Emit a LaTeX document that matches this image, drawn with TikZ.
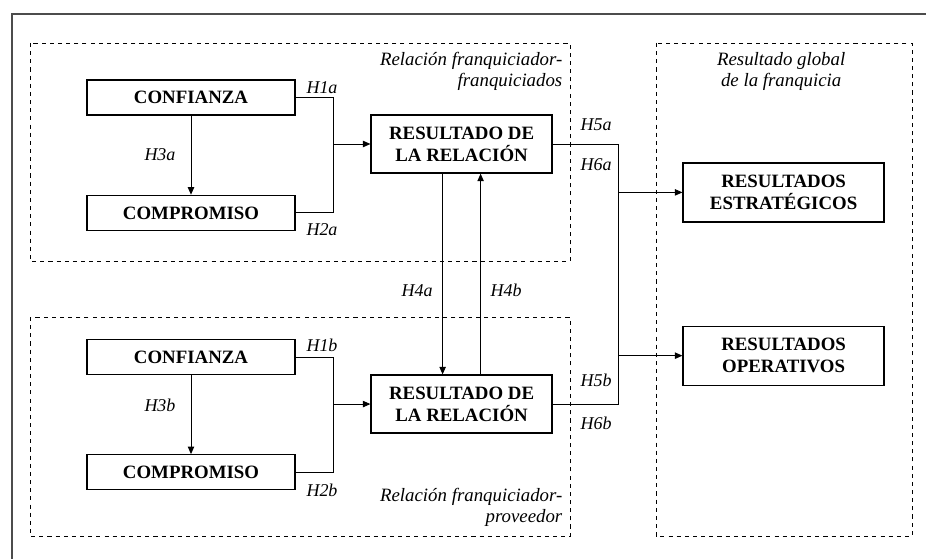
\documentclass[tikz,border=0pt]{standalone}
\usepackage{fontspec}
\setmainfont{Liberation Serif}
\usepackage{tikz}
\usetikzlibrary{
    positioning,
    arrows.meta
}

\begin{document}
\begin{tikzpicture}[
    box/.style={
        rectangle,
        draw,
        line width=0.9pt,
        align=center,
        minimum width=5.2cm,
        minimum height=0.875cm,
        inner sep=1pt,
        font=\fontsize{13.4}{15.5}\selectfont\bfseries
    },
    result/.style={
        box,
        minimum width=4.525cm,
        minimum height=1.45cm
    },
    outcome/.style={
        box,
        minimum width=5.025cm,
        minimum height=1.475cm
    },
    group/.style={
        draw,
        line width=0.6pt,
        dash pattern=on 2.9pt off 2.9pt
    },
    hyp/.style={
        font=\fontsize{12.8}{14.5}\selectfont\itshape,
        inner sep=1pt
    },
    title/.style={
        font=\fontsize{13.4}{15}\selectfont\itshape,
        inner sep=1pt
    },
    line/.style={
        line width=0.7pt
    },
    arrow/.style={
        line,
        -{Triangle[length=1.9mm,width=1.6mm]}
    }
]

\useasboundingbox (0,0) rectangle (23.15,-13.975);

% ============================================================
% FRAME AND GROUPS
% ============================================================

\draw[gray!60!black, line width=1pt] (23.15,-0.35) -- (0.3,-0.35) -- (0.3,-13.975);

\draw[group] (0.75,-1.075) rectangle (14.25,-6.525);
\draw[group] (0.75,-7.925) rectangle (14.25,-13.4);
\draw[group] (16.4,-1.075) rectangle (22.8,-13.4);

\node[title, align=right, anchor=east] (tfranq) at (14.1,-1.78)
{
Relación franquiciador-\\
franquiciados
};

\node[title, align=right, anchor=east] (tprov) at (14.1,-12.68)
{
Relación franquiciador-\\
proveedor
};

\node[title, align=center] (tglobal) at (19.53,-1.78)
{
Resultado global\\
de la franquicia
};

% ============================================================
% FRANCHISEES
% ============================================================

\node[box] (conf1) at (4.775,-2.44) {CONFIANZA};
\node[box, below=1.975cm of conf1] (comp1) {COMPROMISO};

\node[result] (res1) at (11.54,-3.6)
{
RESULTADO DE\\
LA RELACIÓN
};

% ============================================================
% SUPPLIERS
% ============================================================

\node[box] (conf2) at (4.775,-8.925) {CONFIANZA};
\node[box, below=1.975cm of conf2] (comp2) {COMPROMISO};

\node[result, below=5.02cm of res1] (res2)
{
RESULTADO DE\\
LA RELACIÓN
};

% ============================================================
% OUTCOMES
% ============================================================

\node[outcome] (strat) at (19.59,-4.81)
{
RESULTADOS\\
ESTRATÉGICOS
};

\node[outcome, below=2.575cm of strat] (oper)
{
RESULTADOS\\
OPERATIVOS
};

% ============================================================
% CONNECTIONS
% ============================================================

\coordinate (jleft) at (8.325,0);
\coordinate (jright) at (15.45,0);

\draw[arrow] (conf1) -- (comp1);
\draw[line] (conf1.east) -- (conf1.east -| jleft) -- (comp1.east -| jleft) -- (comp1.east);
\draw[arrow] (res1.west -| jleft) -- (res1.west);

\draw[arrow] (conf2) -- (comp2);
\draw[line] (conf2.east) -- (conf2.east -| jleft) -- (comp2.east -| jleft) -- (comp2.east);
\draw[arrow] (res2.west -| jleft) -- (res2.west);

\draw[arrow] ([xshift=-0.475cm]res1.south) -- ([xshift=-0.475cm]res2.north);
\draw[arrow] ([xshift=0.475cm]res2.north) -- ([xshift=0.475cm]res1.south);

\draw[line] (res1.east) -- (res1.east -| jright) -- (res2.east -| jright) -- (res2.east);
\draw[arrow] (strat.west -| jright) -- (strat.west);
\draw[arrow] (oper.west -| jright) -- (oper.west);

% ============================================================
% HYPOTHESES
% ============================================================

\node[hyp] (h1a) at (8.05,-2.2) {H1a};
\node[hyp] (h2a) at (8.05,-5.75) {H2a};
\node[hyp] (h3a) at (4.0,-3.875) {H3a};
\node[hyp] (h1b) at (8.05,-8.625) {H1b};
\node[hyp] (h2b) at (8.05,-12.25) {H2b};
\node[hyp] (h3b) at (4.0,-10.125) {H3b};
\node[hyp] (h4a) at (10.425,-7.275) {H4a};
\node[hyp] (h4b) at (12.65,-7.25) {H4b};
\node[hyp] (h5a) at (14.9,-3.125) {H5a};
\node[hyp] (h6a) at (14.9,-4.125) {H6a};
\node[hyp] (h5b) at (14.9,-9.5) {H5b};
\node[hyp] (h6b) at (14.9,-10.575) {H6b};

\end{tikzpicture}
\end{document}
